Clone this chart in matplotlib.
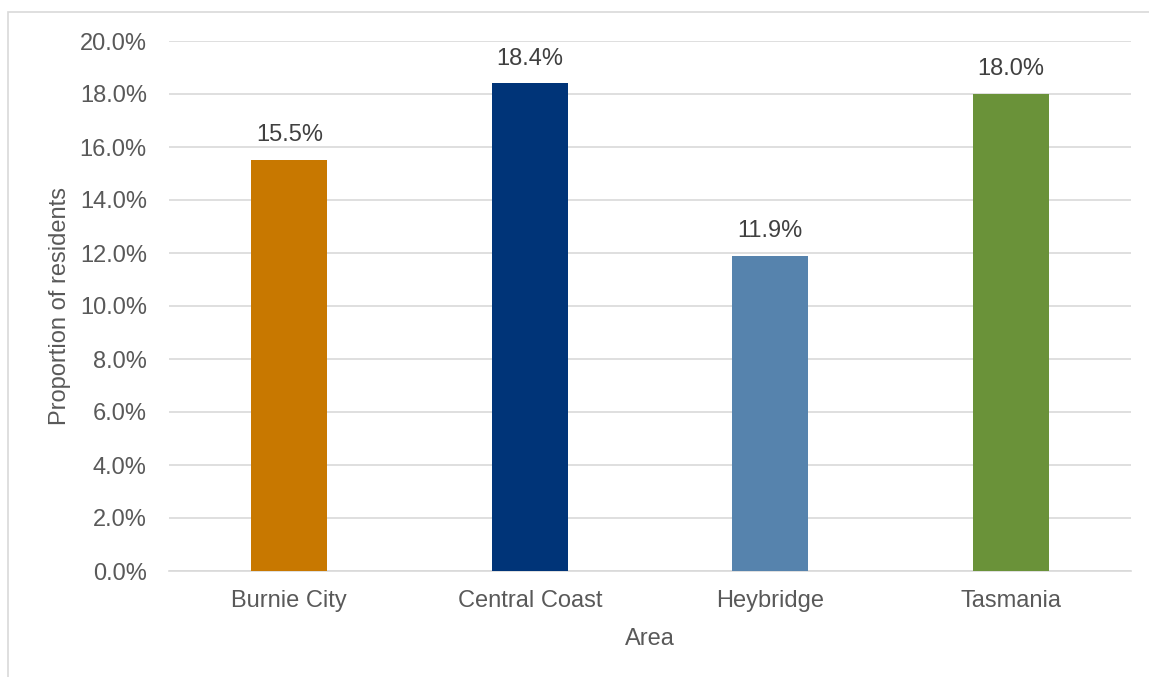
import numpy as np
from matplotlib import pyplot as plt
from matplotlib.patches import Rectangle
from matplotlib.ticker import FuncFormatter

# Data
areas = ['Burnie City', 'Central Coast', 'Heybridge', 'Tasmania']
proportions = [15.5, 18.4, 11.9, 18.0]
bar_colors = ['#C87800', '#003478', '#5683AD', '#6A9239']

plt.rcParams['font.family'] = ['Liberation Sans', 'DejaVu Sans']

fig = plt.figure(figsize=(11.49, 6.77), dpi=100)
ax = fig.add_axes([169 / 1149, 1 - 571 / 677, (1131 - 169) / 1149, (571 - 41) / 677])

x = np.arange(len(areas))
bars = ax.bar(x, proportions, width=0.316, color=bar_colors, zorder=3)

# Value labels above each bar
for b, v in zip(bars, proportions):
    ax.annotate('%.1f%%' % v, (b.get_x() + b.get_width() / 2, v),
                xytext=(0, 10), textcoords='offset points',
                ha='center', va='bottom', fontsize=17, color='#404040')

ax.set_xlim(-0.5, len(areas) - 0.5)
ax.set_ylim(0, 20)
ax.set_yticks(np.arange(0, 20.1, 2))
ax.yaxis.set_major_formatter(FuncFormatter(lambda v, p: '%.1f%%' % v))
ax.set_xticks(x)
ax.set_xticklabels(areas)

ax.grid(axis='y', color='#D9D9D9', linewidth=1.2, zorder=0)
ax.tick_params(axis='both', length=0, labelsize=17, labelcolor='#595959')
ax.tick_params(axis='y', pad=16)
ax.tick_params(axis='x', pad=14)
for s in ['top', 'right', 'left']:
    ax.spines[s].set_visible(False)
ax.spines['bottom'].set_color('#D9D9D9')
ax.spines['bottom'].set_linewidth(1.2)

ax.set_xlabel('Area', fontsize=17, color='#595959', labelpad=11)
ax.set_ylabel('Proportion of residents', fontsize=17, color='#595959', labelpad=6)

# Chart border (cut off at right and bottom like the reference)
fig.patches.append(Rectangle((8 / 1149, -0.1), 1.2, 1 - 12 / 677 + 0.1,
                             transform=fig.transFigure, fill=False,
                             edgecolor='#D9D9D9', linewidth=1.2))

fig.savefig('out.png', dpi=100)
